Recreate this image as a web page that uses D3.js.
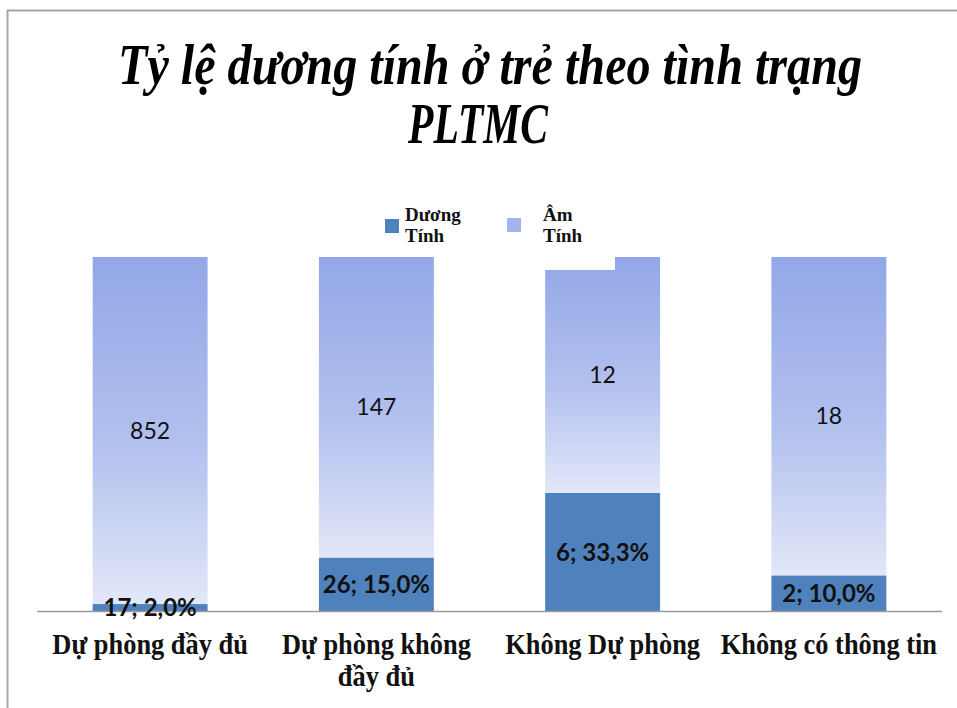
<!DOCTYPE html>
<html>
<head>
<meta charset="utf-8">
<script src="https://cdn.jsdelivr.net/npm/d3@7/dist/d3.min.js"></script>
<style>
  html, body { margin: 0; padding: 0; background: #fff; }
  svg { display: block; }
</style>
</head>
<body>
<svg id="chart" width="957" height="708"></svg>
<script>
// Categories (PLTMC status) and counts per group
const categories = ["Dự phòng đầy đủ", "Dự phòng không đầy đủ", "Không Dự phòng", "Không có thông tin"];
const positive = [17, 26, 6, 2];      // Dương Tính
const negative = [852, 147, 12, 18];  // Âm Tính
const seriesNames = ["Dương Tính", "Âm Tính"];
const titleLines = ["Tỷ lệ dương tính ở trẻ theo tình trạng", "PLTMC"];

const W = 957, H = 708;
const svg = d3.select("#chart");

const posColor = "#4f81bd";

// vertical gradient for the negative segments
const defs = svg.append("defs");
const grad = defs.append("linearGradient")
  .attr("id", "negGrad").attr("x1", 0).attr("y1", 0).attr("x2", 0).attr("y2", 1);
grad.append("stop").attr("offset", "0%").attr("stop-color", "#93a7e8");
grad.append("stop").attr("offset", "55%").attr("stop-color", "#b3c1ee");
grad.append("stop").attr("offset", "100%").attr("stop-color", "#e2e7f8");

// outer frame
svg.append("path")
  .attr("d", `M7.5,${H} V10.5 H${W}`)
  .attr("fill", "none").attr("stroke", "#a6a6a6").attr("stroke-width", 2);

// title: condensed bold italic serif, each line squeezed to its target width
const titleSpecs = [
  { text: titleLines[0], cx: 490, y: 84, width: 744 },
  { text: titleLines[1], cx: 478, y: 143, width: 140 }
];
titleSpecs.forEach(s => {
  const g = svg.append("g");
  const t = g.append("text")
    .attr("font-family", "'Liberation Serif', 'Times New Roman', serif")
    .attr("font-weight", "bold").attr("font-style", "italic")
    .attr("font-size", 56).attr("fill", "#000").attr("text-anchor", "middle")
    .text(s.text);
  const natural = t.node().getComputedTextLength();
  g.attr("transform", `translate(${s.cx},${s.y}) scale(${s.width / natural},1)`);
});

// scales
const x = d3.scaleBand().domain(categories).range([37, 942])
  .paddingInner(0.492).paddingOuter(0.246);
const y = d3.scaleLinear().domain([0, 1]).range([611, 257]);

const data = categories.map((c, i) => {
  const total = positive[i] + negative[i];
  return { cat: c, pos: positive[i], neg: negative[i], pShare: positive[i] / total };
});

const fmtPct = v => d3.format(".1f")(v * 100).replace(".", ",") + "%";

// negative (upper) segments
svg.append("g").selectAll("rect").data(data).join("rect")
  .attr("x", d => x(d.cat)).attr("width", x.bandwidth())
  .attr("y", y(1)).attr("height", d => y(d.pShare) - y(1))
  .attr("fill", "url(#negGrad)");

// positive (lower) segments
svg.append("g").selectAll("rect").data(data).join("rect")
  .attr("x", d => x(d.cat)).attr("width", x.bandwidth())
  .attr("y", d => y(d.pShare)).attr("height", d => y(0) - y(d.pShare))
  .attr("fill", posColor);

// legend panel (white background) and entries
const legend = svg.append("g");
legend.append("rect").attr("x", 496).attr("y", 196).attr("width", 119).attr("height", 74)
  .attr("fill", "#fff");
const legItems = [
  { name: seriesNames[0], fill: posColor, sx: 385, tx: 405, sy: 219 },
  { name: seriesNames[1], fill: "#a3b4ec", sx: 507, tx: 543, sy: 218 }
];
legItems.forEach(it => {
  legend.append("rect").attr("x", it.sx).attr("y", it.sy).attr("width", 14).attr("height", 14)
    .attr("fill", it.fill);
  const words = it.name.split(" ");
  const t = legend.append("text")
    .attr("font-family", "'Liberation Serif', 'Times New Roman', serif")
    .attr("font-weight", "bold").attr("font-size", 19).attr("fill", "#111");
  words.forEach((w, k) => {
    t.append("tspan").attr("x", it.tx).attr("y", 221 + k * 21).text(w);
  });
});

// baseline
svg.append("line").attr("x1", 37).attr("x2", 942).attr("y1", 611.5).attr("y2", 611.5)
  .attr("stroke", "#9a9a9a").attr("stroke-width", 1.5);

// value labels
const labelFont = "Lato, 'Open Sans', sans-serif";
svg.append("g").selectAll("text").data(data).join("text")
  .attr("x", d => x(d.cat) + x.bandwidth() / 2)
  .attr("y", d => (y(1) + y(d.pShare)) / 2)
  .attr("dy", "0.35em").attr("text-anchor", "middle")
  .attr("font-family", labelFont).attr("font-size", 23).attr("fill", "#111")
  .text(d => d.neg);

svg.append("g").selectAll("text").data(data).join("text")
  .attr("x", d => x(d.cat) + x.bandwidth() / 2)
  .attr("y", d => (y(0) + y(d.pShare)) / 2)
  .attr("dy", "0.36em").attr("text-anchor", "middle")
  .attr("font-family", labelFont).attr("font-weight", "bold").attr("font-size", 24).attr("fill", "#111")
  .text(d => `${d.pos}; ${fmtPct(d.pShare)}`);

// category labels (wrapped to band width, slightly condensed)
const catG = svg.append("g")
  .attr("font-family", "'Liberation Serif', 'Times New Roman', serif")
  .attr("font-weight", "bold").attr("font-size", 30).attr("fill", "#111");
const sx = 0.88;
data.forEach(d => {
  const g = catG.append("g")
    .attr("transform", `translate(${x(d.cat) + x.bandwidth() / 2},654) scale(${sx},1)`);
  const t = g.append("text").attr("text-anchor", "middle");
  const words = d.cat.split(" ");
  const maxW = x.step() / sx;
  let line = [], lineNo = 0;
  let tspan = t.append("tspan").attr("x", 0).attr("y", 0);
  words.forEach(w => {
    line.push(w);
    tspan.text(line.join(" "));
    if (tspan.node().getComputedTextLength() > maxW && line.length > 1) {
      line.pop();
      tspan.text(line.join(" "));
      line = [w];
      lineNo++;
      tspan = t.append("tspan").attr("x", 0).attr("y", lineNo * 32).text(w);
    }
  });
});
</script>
</body>
</html>
